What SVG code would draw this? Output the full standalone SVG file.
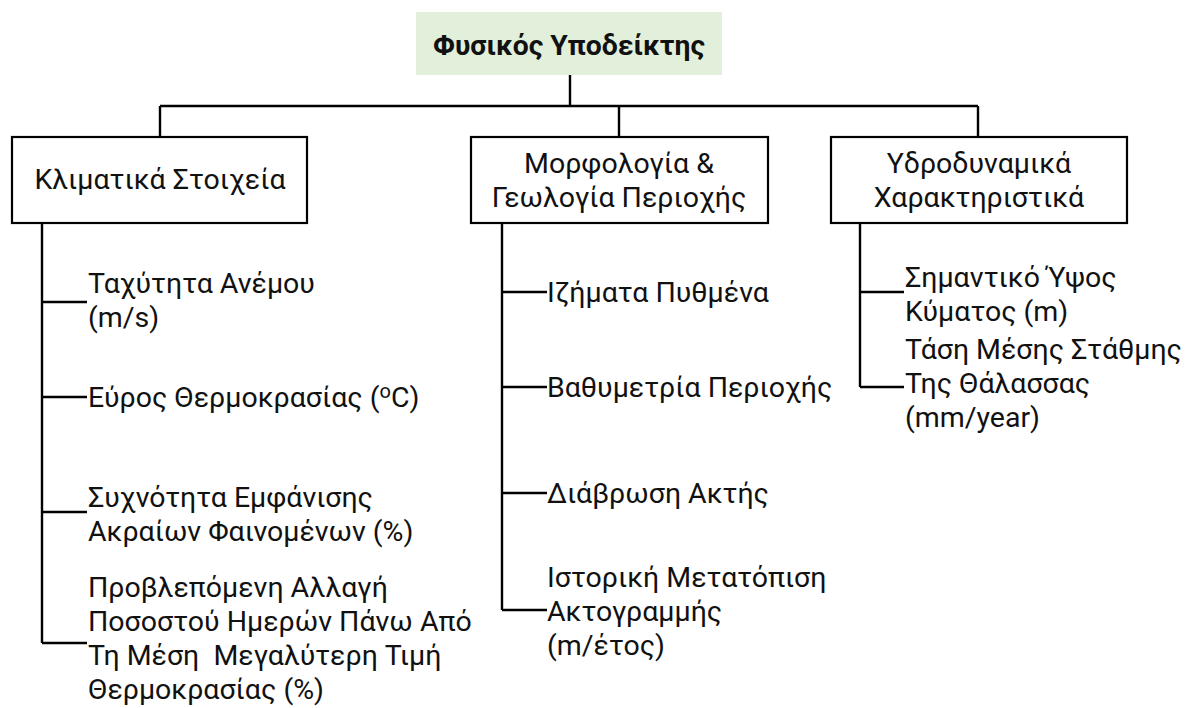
<svg xmlns="http://www.w3.org/2000/svg" width="1190" height="708" viewBox="0 0 1190 708">
<style>
.t{font-family:Roboto,"Open Sans","DejaVu Sans",sans-serif;font-size:28.5px;fill:#111}
.b{font-weight:bold;font-size:28.3px}
.box{fill:#fff;stroke:#000;stroke-width:2.2}
.ln{fill:none;stroke:#000;stroke-width:2.4}
</style>
<rect width="1190" height="708" fill="#fff"/>
<g id="connectors">
<path class="ln" d="M570 75V106M160 106H978M160 106V137M619 106V137M978 106V137"/>
<path class="ln" d="M42 223V643M42 302H87M42 397H87M42 512H87M42 643H87"/>
<path class="ln" d="M502 223V610M502 292H547M502 387H547M502 493H547M502 610H547"/>
<path class="ln" d="M860 223V387M860 292H904M860 387H904"/>
</g>
<g id="root">
<rect x="416" y="12" width="306" height="63" fill="#e2efda"/>
<text class="t b" x="569" y="55" text-anchor="middle">Φυσικός Υποδείκτης</text>
</g>
<g id="climate">
<rect class="box" x="12" y="137" width="295" height="86"/>
<text class="t" x="160" y="189" text-anchor="middle">Κλιματικά Στοιχεία</text>
</g>
<g id="morphology">
<rect class="box" x="471" y="137" width="297" height="86"/>
<text class="t" x="619" y="173" text-anchor="middle">Μορφολογία &amp;</text>
<text class="t" x="619" y="207" text-anchor="middle">Γεωλογία Περιοχής</text>
</g>
<g id="hydro">
<rect class="box" x="831" y="137" width="296" height="86"/>
<text class="t" x="979" y="173" text-anchor="middle">Υδροδυναμικά</text>
<text class="t" x="979" y="207" text-anchor="middle">Χαρακτηριστικά</text>
</g>
<g id="wind">
<text class="t" x="88" y="293">Ταχύτητα Ανέμου</text>
<text class="t" x="88" y="327">(m/s)</text>
</g>
<g id="temp-range">
<text class="t" x="88" y="407">Εύρος Θερμοκρασίας (<tspan font-size="20" dy="-9">o</tspan><tspan dy="9">C)</tspan></text>
</g>
<g id="extreme">
<text class="t" x="88" y="507">Συχνότητα Εμφάνισης</text>
<text class="t" x="88" y="541">Ακραίων Φαινομένων (%)</text>
</g>
<g id="hot-days">
<text class="t" x="88" y="597">Προβλεπόμενη Αλλαγή</text>
<text class="t" x="88" y="631">Ποσοστού Ημερών Πάνω Από</text>
<text class="t" x="88" y="665" xml:space="preserve">Τη Μέση  Μεγαλύτερη Τιμή</text>
<text class="t" x="88" y="699">Θερμοκρασίας (%)</text>
</g>
<g id="sediments">
<text class="t" x="547" y="302">Ιζήματα Πυθμένα</text>
</g>
<g id="bathymetry">
<text class="t" x="547" y="397">Βαθυμετρία Περιοχής</text>
</g>
<g id="erosion">
<text class="t" x="547" y="503">Διάβρωση Ακτής</text>
</g>
<g id="shoreline">
<text class="t" x="547" y="587">Ιστορική Μετατόπιση</text>
<text class="t" x="547" y="621">Ακτογραμμής</text>
<text class="t" x="547" y="655">(m/έτος)</text>
</g>
<g id="wave">
<text class="t" x="905" y="287">Σημαντικό Ύψος</text>
<text class="t" x="905" y="321">Κύματος (m)</text>
</g>
<g id="sea-level">
<text class="t" x="905" y="359">Τάση Μέσης Στάθμης</text>
<text class="t" x="905" y="393">Της Θάλασσας</text>
<text class="t" x="905" y="427">(mm/year)</text>
</g>
</svg>
